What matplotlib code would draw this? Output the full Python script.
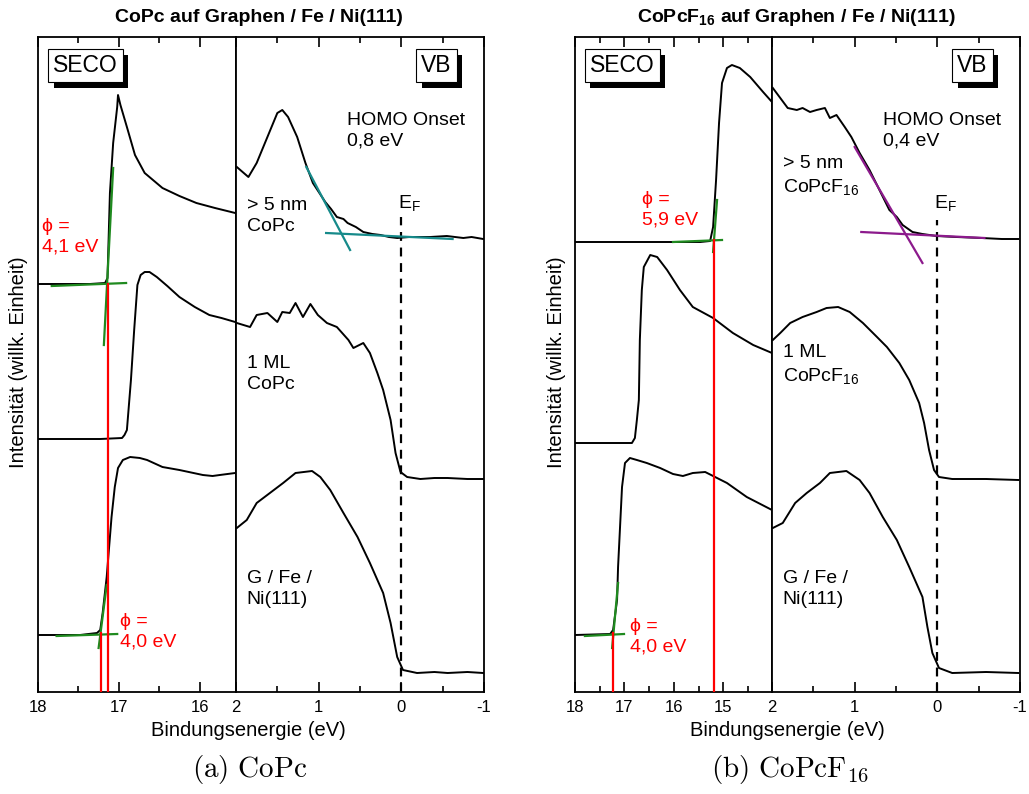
import numpy as np
import matplotlib
matplotlib.use('Agg')
import matplotlib.pyplot as plt
import matplotlib.patheffects as pe
from matplotlib.ticker import MultipleLocator

plt.rcParams['font.family'] = ['Liberation Sans', 'DejaVu Sans']
plt.rcParams['mathtext.fontset'] = 'custom'
plt.rcParams['mathtext.rm'] = 'Liberation Sans'
plt.rcParams['mathtext.bf'] = 'Liberation Sans:bold'
plt.rcParams['mathtext.it'] = 'Liberation Sans:italic'

# ---------------- CoPc : SECO ----------------
seco_a_thick_x = [18.00, 17.36, 17.17, 17.14, 17.11, 17.07, 17.02, 17.01, 16.98, 16.90,
                  16.80, 16.68, 16.46, 16.25, 16.04, 15.81, 15.56]
seco_a_thick_y = [408, 408, 409, 414, 499, 549, 585, 597, 587, 565,
                  537, 519, 504, 496, 489, 484, 479]
seco_a_ml_x = [18.00, 17.23, 16.96, 16.93, 16.90, 16.88, 16.85, 16.81, 16.77, 16.73,
               16.68, 16.62, 16.53, 16.40, 16.25, 16.06, 15.88, 15.73, 15.56]
seco_a_ml_y = [253, 253, 254, 257, 262, 282, 312, 362, 407, 417,
               420, 420, 415, 406, 395, 385, 377, 374, 370]
seco_a_sub_x = [18.00, 17.48, 17.27, 17.23, 17.20, 17.15, 17.09, 17.05, 17.01, 16.95,
                16.86, 16.74, 16.65, 16.46, 16.25, 15.96, 15.84, 15.75, 15.56]
seco_a_sub_y = [57, 57, 59, 62, 79, 115, 175, 205, 224, 232,
                235, 234, 232, 225, 222, 217, 216, 217, 219]
# tangents (green) and cutoff positions (red)
fit_a_thick = [([17.07, 17.185], [524, 347]), ([17.83, 16.91], [406, 409])]
fit_a_sub = [([17.15, 17.25], [107, 44]), ([17.77, 17.02], [56, 58])]
cut_a = [(17.14, 408), (17.22, 59)]

# ---------------- CoPc : VB ----------------
vb_a_thick_x = [1.99, 1.85, 1.75, 1.62, 1.50, 1.44, 1.37, 1.26, 1.16, 1.07, 0.92, 0.85,
                0.78, 0.70, 0.65, 0.55, 0.46, 0.35, 0.25, 0.15, 0.05, -0.10, -0.35,
                -0.55, -0.75, -0.85, -0.99]
vb_a_thick_y = [525, 515, 529, 555, 579, 582, 575, 555, 529, 509, 490, 483,
                475, 473, 469, 465, 460, 458, 457, 455, 454, 455, 455,
                456, 454, 455, 453]
vb_a_ml_x = [1.99, 1.83, 1.75, 1.62, 1.50, 1.44, 1.35, 1.28, 1.19, 1.10, 1.01, 0.90,
             0.78, 0.64, 0.58, 0.46, 0.38, 0.29, 0.22, 0.13, 0.07, 0.01, -0.07,
             -0.23, -0.40, -0.56, -0.80, -0.99]
vb_a_ml_y = [369, 365, 377, 379, 370, 380, 379, 389, 375, 388, 377, 369,
             365, 352, 344, 349, 339, 319, 302, 272, 239, 220, 215,
             213, 214, 214, 213, 213]
vb_sub_x = [1.99, 1.87, 1.75, 1.59, 1.43, 1.28, 1.08, 0.98, 0.86, 0.70, 0.53, 0.38,
            0.22, 0.13, 0.05, -0.02, -0.19, -0.40, -0.56, -0.80, -0.99]
vb_sub_y = [164, 172, 189, 199, 209, 219, 221, 215, 202, 179, 155, 129,
            99, 69, 35, 22, 19, 20, 19, 20, 19]
fit_a_vb = [([1.15, 0.62], [525, 442]), ([0.91, -0.62], [459, 453])]

# ---------------- CoPcF16 : SECO ----------------
seco_b_thick_x = [18.00, 15.47, 15.27, 15.21, 15.15, 15.09, 15.03, 14.93, 14.83, 14.67,
                  14.46, 14.20, 14.02]
seco_b_thick_y = [450, 450, 451, 465, 512, 569, 609, 624, 627, 624,
                  615, 600, 590]
seco_b_ml_x = [18.00, 16.85, 16.79, 16.75, 16.71, 16.69, 16.65, 16.61, 16.48, 16.34,
               16.14, 15.88, 15.62, 15.21, 14.81, 14.40, 14.02]
seco_b_ml_y = [249, 249, 254, 272, 292, 352, 402, 425, 437, 435,
               422, 402, 385, 374, 359, 347, 339]
seco_b_sub_x = [18.00, 17.29, 17.23, 17.15, 17.13, 17.09, 17.05, 16.99, 16.89, 16.75,
                16.55, 16.28, 16.02, 15.82, 15.62, 15.37, 15.21, 14.93, 14.53, 14.02]
seco_b_sub_y = [57, 58, 62, 92, 125, 165, 205, 229, 234, 232,
                229, 224, 218, 216, 219, 220, 216, 209, 195, 182]
fit_b_thick = [([15.13, 15.21], [492, 440]), ([16.02, 15.03], [450, 452])]
fit_b_sub = [([17.13, 17.25], [109, 44]), ([17.80, 17.01], [56, 58])]
cut_b = [(15.19, 452), (17.23, 59)]

# ---------------- CoPcF16 : VB ----------------
vb_b_thick_x = [1.99, 1.90, 1.81, 1.70, 1.63, 1.54, 1.46, 1.36, 1.30, 1.22, 1.12, 1.04,
                0.94, 0.82, 0.70, 0.58, 0.49, 0.42, 0.30, 0.18, 0.01, -0.23, -0.54,
                -0.78, -0.98]
vb_b_thick_y = [604, 594, 584, 582, 584, 580, 582, 584, 574, 577, 565, 555,
                539, 522, 502, 482, 475, 467, 460, 458, 456, 455, 454,
                453, 453]
vb_b_ml_x = [1.99, 1.90, 1.78, 1.63, 1.46, 1.34, 1.20, 1.06, 0.90, 0.73, 0.61, 0.46,
             0.34, 0.22, 0.16, 0.10, 0.04, -0.02, -0.18, -0.59, -0.98]
vb_b_ml_y = [352, 359, 369, 375, 380, 384, 385, 380, 369, 355, 345, 329,
             312, 289, 269, 242, 222, 215, 213, 213, 212]
vb_b_sub_x = [1.99, 1.87, 1.72, 1.58, 1.42, 1.30, 1.10, 0.94, 0.82, 0.66, 0.49, 0.34,
              0.18, 0.12, 0.06, -0.02, -0.18, -0.59, -0.98]
vb_b_sub_y = [164, 169, 189, 199, 209, 219, 221, 212, 199, 175, 152, 125,
              95, 65, 39, 24, 19, 20, 19]
fit_b_vb = [([1.00, 0.18], [545, 429]), ([0.92, -0.57], [460, 454])]

green = '#1f8a1f'
teal = '#168a8a'
purple = '#8c1a8c'

fig = plt.figure(figsize=(10.29, 7.94), dpi=100)
W, H = 1029.0, 794.0


def make_ax(x0, x1):
    ax = fig.add_axes([x0 / W, (H - 692) / H, (x1 - x0) / W, 655 / H])
    ax.set_ylim(0, 655)
    ax.set_yticks([])
    ax.tick_params(axis='x', which='both', direction='in', top=True, labelsize=12, pad=6)
    ax.tick_params(axis='x', which='major', length=7, width=1.2)
    ax.tick_params(axis='x', which='minor', length=4, width=1.2)
    for s in ax.spines.values():
        s.set_linewidth(1.3)
    return ax


def box(ax, x, label):
    t = ax.text(x, 0.956, label, transform=ax.transAxes, ha='center', va='center',
                fontsize=16.5, zorder=10,
                bbox=dict(boxstyle='square,pad=0.22', fc='white', ec='black', lw=0.8))
    t.get_bbox_patch().set_path_effects(
        [pe.withSimplePatchShadow(offset=(4, -4), shadow_rgbFace='black', alpha=1.0)])


panels = [
    dict(seco=(38, 236), vb=(236, 484), sxlim=(18, 15.55), sticks=[18, 17, 16],
         curves=[(seco_a_thick_x, seco_a_thick_y), (seco_a_ml_x, seco_a_ml_y),
                 (seco_a_sub_x, seco_a_sub_y)],
         fits=fit_a_thick + fit_a_sub, cuts=cut_a,
         phi=[(17.95, 455, 'ϕ =\n4,1 eV'), (16.99, 60, 'ϕ =\n4,0 eV')],
         vbcurves=[(vb_a_thick_x, vb_a_thick_y), (vb_a_ml_x, vb_a_ml_y), (vb_sub_x, vb_sub_y)],
         vbfit=fit_a_vb, fitcol=teal, homo='HOMO Onset\n0,8 eV', ef_top=475,
         labels=['> 5 nm\nCoPc', '1 ML\nCoPc'], lab_y=[476, 318],
         title='CoPc auf Graphen / Fe / Ni(111)', tx=259, xl=248,
         cap=r'$\mathrm{(a)\ CoPc}$', cx=250),
    dict(seco=(575, 772), vb=(772, 1020), sxlim=(18, 14.02), sticks=[18, 17, 16, 15],
         curves=[(seco_b_thick_x, seco_b_thick_y), (seco_b_ml_x, seco_b_ml_y),
                 (seco_b_sub_x, seco_b_sub_y)],
         fits=fit_b_thick + fit_b_sub, cuts=cut_b,
         phi=[(16.65, 482, 'ϕ =\n5,9 eV'), (16.89, 55, 'ϕ =\n4,0 eV')],
         vbcurves=[(vb_b_thick_x, vb_b_thick_y), (vb_b_ml_x, vb_b_ml_y),
                   (vb_b_sub_x, vb_b_sub_y)],
         vbfit=fit_b_vb, fitcol=purple, homo='HOMO Onset\n0,4 eV', ef_top=472,
         labels=['> 5 nm\nCoPcF$_{16}$', '1 ML\nCoPcF$_{16}$'], lab_y=[516, 327],
         title=r'CoPcF$_\mathbf{16}$ auf Graphen / Fe / Ni(111)', tx=797, xl=787,
         cap=r'$\mathrm{(b)\ CoPcF_{16}}$', cx=790),
]

for p in panels:
    ax = make_ax(*p['seco'])
    ax.set_xlim(*p['sxlim'])
    ax.set_xticks(p['sticks'])
    ax.xaxis.set_minor_locator(MultipleLocator(0.5))
    for xs, ys in p['curves']:
        ax.plot(xs, ys, color='black', lw=1.4)
    for xs, ys in p['fits']:
        ax.plot(xs, ys, color=green, lw=1.6, zorder=4)
    for e, top in p['cuts']:
        ax.plot([e, e], [0, top], color='red', lw=1.6, zorder=5)
    for e, yy, s in p['phi']:
        ax.text(e, yy, s, color='red', fontsize=14, ha='left', va='center', linespacing=1.3)
    box(ax, 0.24, 'SECO')

    bx = make_ax(*p['vb'])
    bx.set_xlim(2, -1)
    bx.set_xticks([2, 1, 0, -1])
    bx.set_xticklabels(['2', '1', '0', '-1'])
    bx.xaxis.set_minor_locator(MultipleLocator(0.5))
    for xs, ys in p['vbcurves']:
        bx.plot(xs, ys, color='black', lw=1.4)
    for xs, ys in p['vbfit']:
        bx.plot(xs, ys, color=p['fitcol'], lw=1.6, zorder=4)
    bx.plot([0, 0], [0, p['ef_top']], color='black', lw=1.6, ls=(0, (4, 3)))
    bx.text(0.04, 489, 'E$_\\mathrm{F}$', fontsize=14, ha='left', va='center')
    bx.text(0.66, 561, p['homo'], fontsize=14, ha='left', va='center', linespacing=1.3)
    for s, yy in zip(p['labels'], p['lab_y']):
        bx.text(1.87, yy, s, fontsize=14, ha='left', va='center', linespacing=1.3)
    bx.text(1.87, 103, 'G / Fe /\nNi(111)', fontsize=14, ha='left', va='center', linespacing=1.3)
    box(bx, 0.808, 'VB')

    fig.text(p['tx'] / W, 1 - 18 / H, p['title'], fontsize=14, fontweight='bold',
             ha='center', va='center')
    fig.text(p['xl'] / W, 1 - 731 / H, 'Bindungsenergie (eV)', fontsize=14.5,
             ha='center', va='center')
    fig.text(p['cx'] / W, 1 - 770 / H, p['cap'], fontsize=21, math_fontfamily='cm',
             ha='center', va='center')
    fig.text((p['seco'][0] - 19) / W, 1 - 362 / H, 'Intensität (willk. Einheit)',
             fontsize=14.5, rotation=90, ha='center', va='center')

fig.savefig('out.png', dpi=100)
